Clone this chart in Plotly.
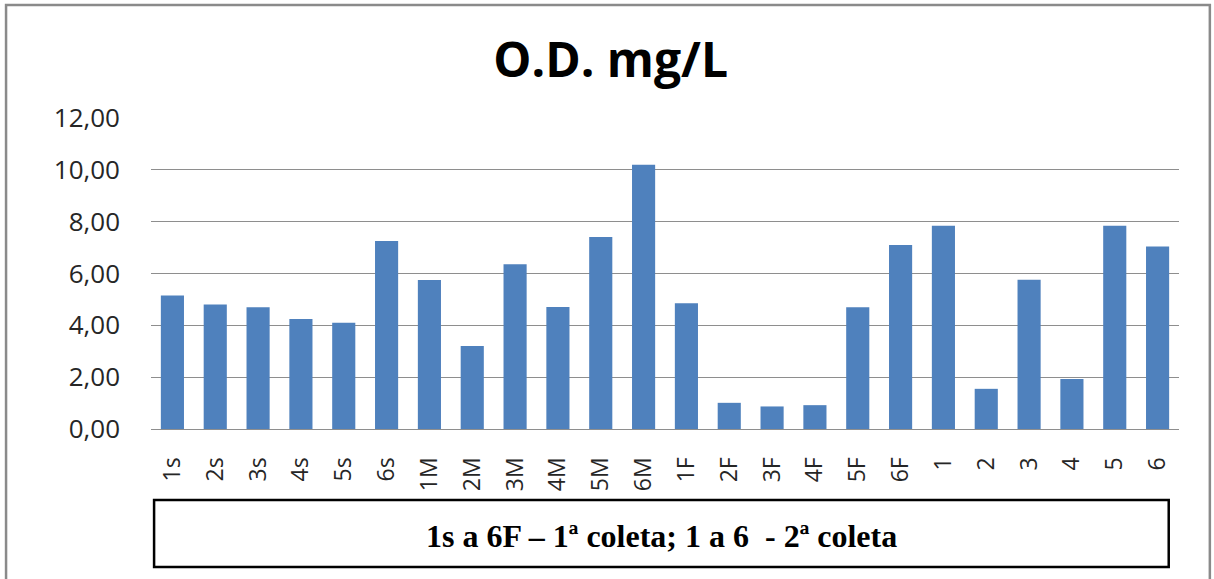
"""O.D. mg/L bar chart (Excel-style) recreated with Plotly."""

import plotly.graph_objects as go

CATEGORIES = [
    "1s", "2s", "3s", "4s", "5s", "6s",
    "1M", "2M", "3M", "4M", "5M", "6M",
    "1F", "2F", "3F", "4F", "5F", "6F",
    "1", "2", "3", "4", "5", "6",
]
OD_VALUES = [
    5.15, 4.80, 4.70, 4.24, 4.10, 7.25,
    5.75, 3.20, 6.36, 4.71, 7.41, 10.20,
    4.85, 1.01, 0.87, 0.92, 4.70, 7.10,
    7.84, 1.55, 5.76, 1.93, 7.84, 7.04,
]
Y_TICKS = [0, 2, 4, 6, 8, 10, 12]

TITLE = "O.D. mg/L"
NOTE = "1s a 6F – 1ª coleta; 1 a 6  - 2ª coleta"

BAR_COLOR = "#4F81BD"
GRID_COLOR = "#8E8E8E"
TEXT_COLOR = "#262626"

fig = go.Figure(
    go.Bar(
        x=CATEGORIES,
        y=OD_VALUES,
        marker=dict(color=BAR_COLOR, line=dict(width=0)),
        hoverinfo="x+y",
    )
)

fig.update_layout(
    width=1214,
    height=579,
    paper_bgcolor="white",
    plot_bgcolor="white",
    bargap=0.46,
    showlegend=False,
    separators=",.",
    margin=dict(l=151, r=35, t=118, b=150),
    title=dict(
        text=f"<b>{TITLE}</b>",
        x=0.503,
        xanchor="center",
        y=1 - 60 / 579,
        yanchor="middle",
        font=dict(family="Open Sans", size=48, color="black"),
    ),
    font=dict(family="Open Sans", color=TEXT_COLOR),
)

fig.update_yaxes(
    range=[0, 12],
    tickvals=Y_TICKS,
    tickformat=".2f",
    showgrid=True,
    gridcolor=GRID_COLOR,
    gridwidth=1.2,
    zeroline=False,
    showline=False,
    ticks="",
    ticklabelstandoff=30,
    tickfont=dict(family="Open Sans", size=26, color=TEXT_COLOR),
)

fig.update_xaxes(
    tickangle=-90,
    showline=True,
    linecolor=GRID_COLOR,
    linewidth=1.2,
    ticks="",
    showgrid=False,
    ticklabelstandoff=18,
    tickfont=dict(family="Open Sans", size=23, color=TEXT_COLOR),
)

# outer chart frame (Excel chart-area border), bottom edge runs off the picture
fig.add_shape(
    type="rect", xref="paper", yref="paper",
    x0=-0.141, x1=1.030, y0=-0.55, y1=1.363,
    line=dict(color="#8A8A8A", width=2.5),
    layer="below",
)

# caption box under the chart
fig.add_shape(
    type="rect", xref="paper", yref="paper",
    x0=0.003, x1=0.990, y0=-0.444, y1=-0.228,
    line=dict(color="black", width=2.5),
)
fig.add_annotation(
    text=f"<b>{NOTE}</b>",
    xref="paper", yref="paper",
    x=0.4965, y=-0.345,
    xanchor="center", yanchor="middle",
    showarrow=False,
    font=dict(family="Liberation Serif", size=32, color="black"),
)

fig.write_html(
    "out.html",
    config={"displayModeBar": False},
    post_script="document.body.style.margin='0';document.body.style.overflow='hidden';",
)
